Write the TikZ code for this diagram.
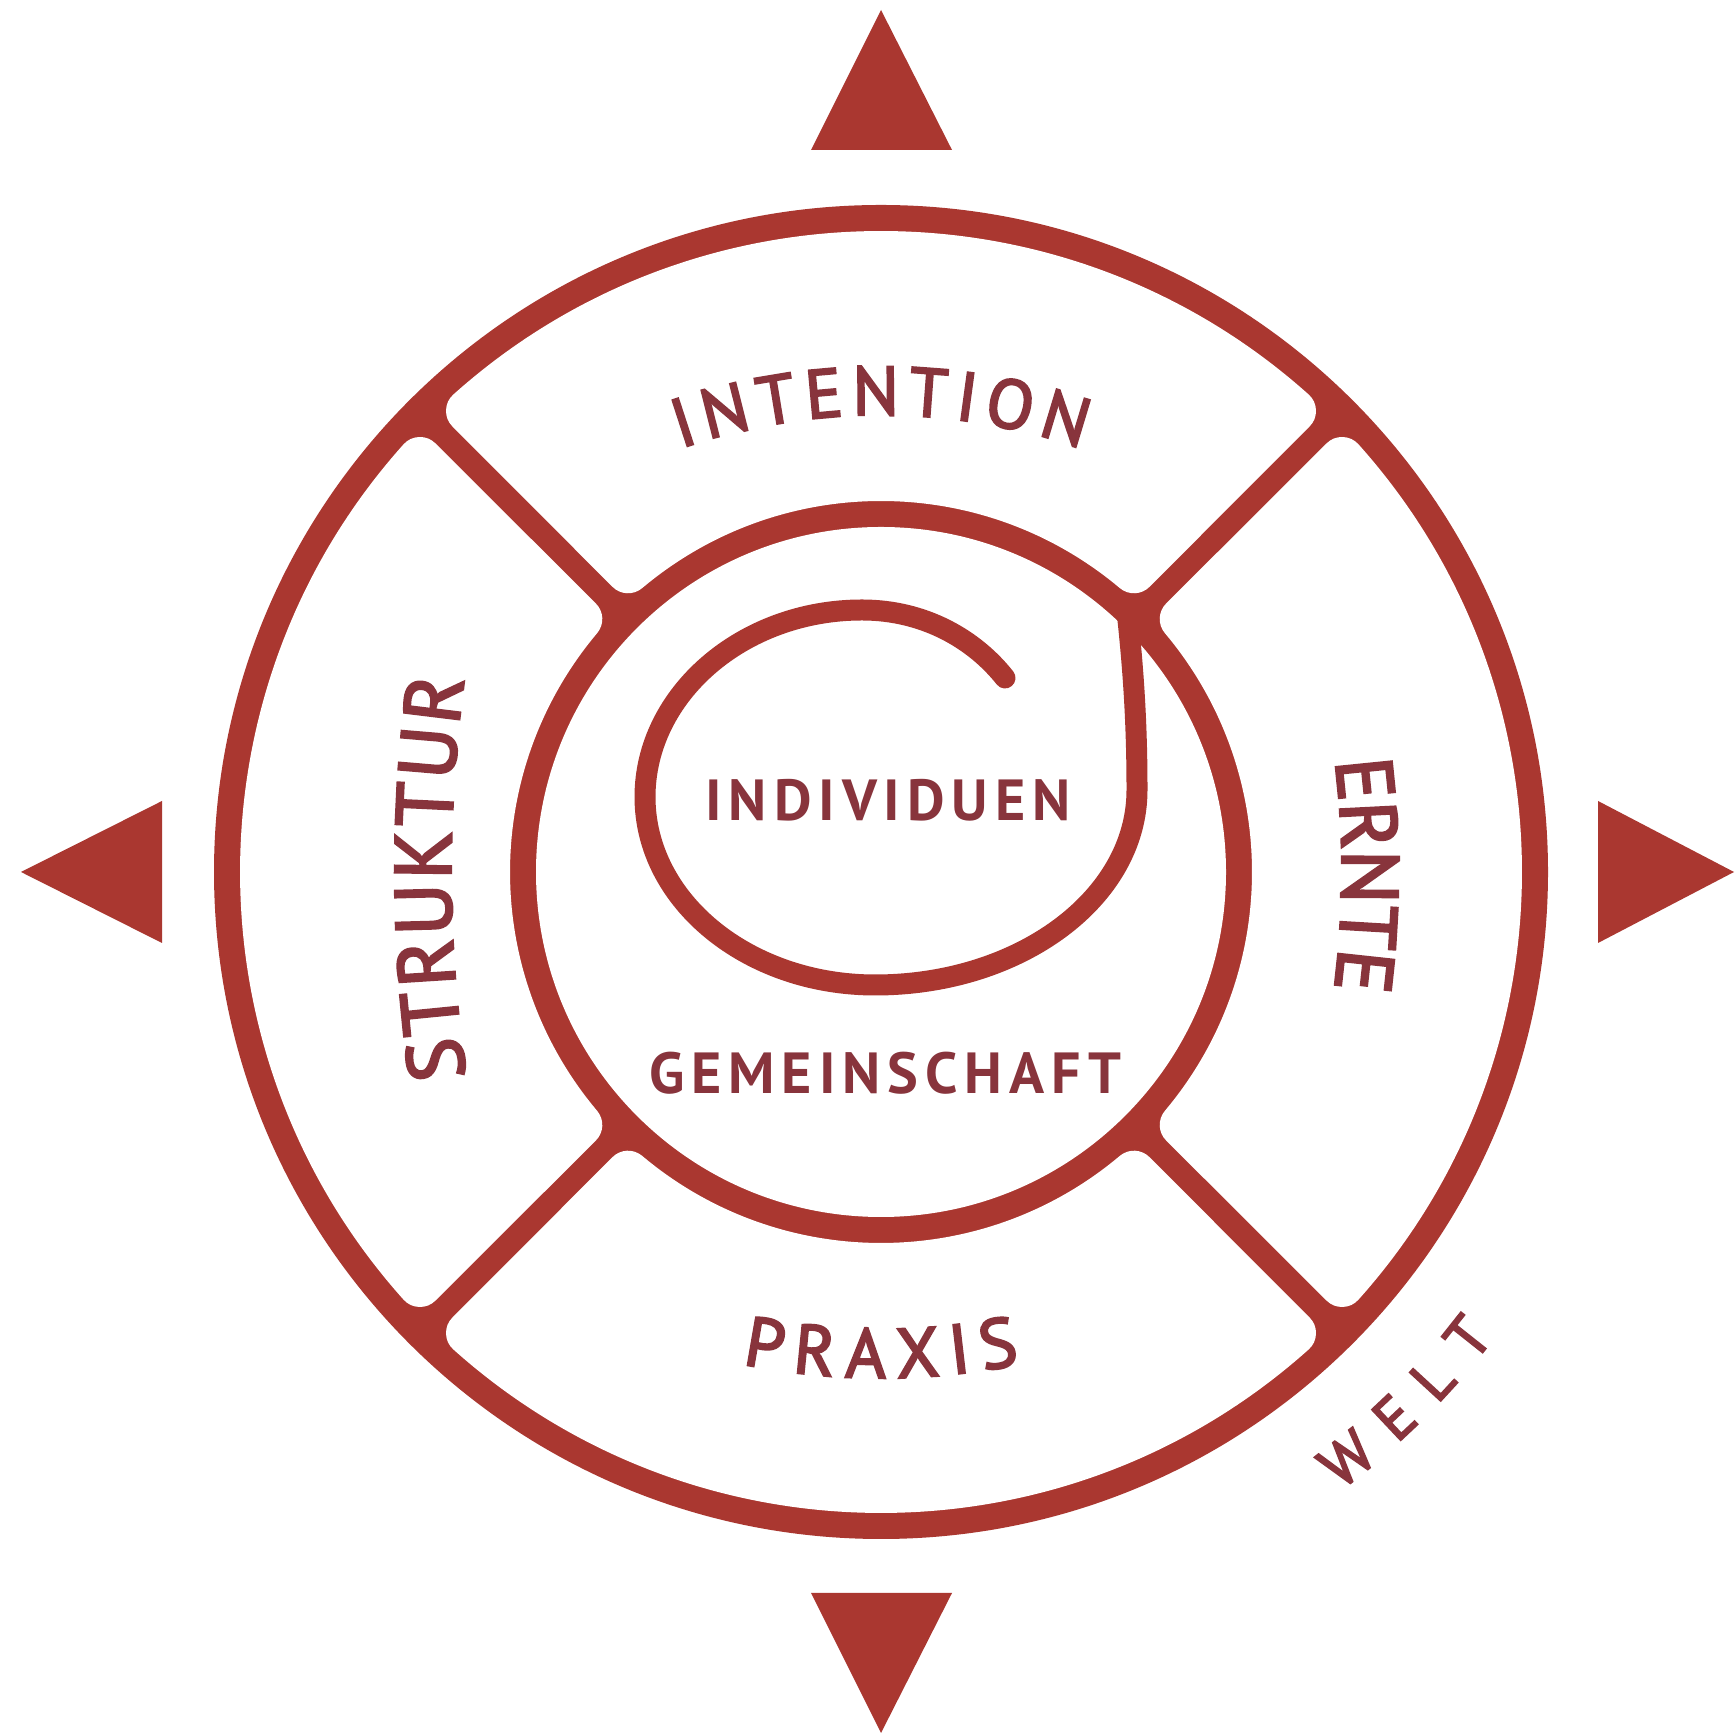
\documentclass[tikz,border=0pt]{standalone}
\usepackage{fontspec}
\setmainfont{PT Sans}
\newfontfamily\ringfamily[FakeBold=3]{PT Sans}
\newfontfamily\centerfamily[LetterSpace=12]{PT Sans Bold}
\newcommand\topfont{\ringfamily\fontsize{69}{69}\selectfont}
\newcommand\sidefont{\ringfamily\fontsize{80}{80}\selectfont}
\newcommand\botfont{\ringfamily\fontsize{70}{70}\selectfont}
\newcommand\weltfont{\ringfamily\fontsize{60}{60}\selectfont}
\newcommand\centerfont{\centerfamily\fontsize{58}{58}\selectfont}
\definecolor{ringred}{RGB}{170,55,48}
\definecolor{labred}{RGB}{136,52,60}
% measure letter widths outside the picture: #1 name, #2 font, #3 letters
\newcommand\MeasureWord[3]{%
  \foreach \ch [count=\k] in {#3}{%
    \setbox0=\hbox{#2\ch}%
    \expandafter\xdef\csname AW@#1@\k\endcsname{\the\wd0}}}
% #1 name, #2 font, #3 baseline radius, #4 mid angle, #5 dir (1 clockwise, -1 ccw), #6 target length, #7 letters
\newcommand\ArcLabel[7]{%
  \gdef\ArcSum{0}\gdef\ArcN{0}%
  \foreach \ch [count=\k] in {#7}{%
    \edef\ArcCur{\csname AW@#1@\k\endcsname}%
    \pgfmathsetmacro\ArcTmp{\ArcSum+\ArcCur}\xdef\ArcSum{\ArcTmp}%
    \xdef\ArcN{\k}}%
  \pgfmathsetmacro\ArcTrack{(#6-\ArcSum)/(\ArcN-1)}%
  \gdef\ArcPos{0}%
  \foreach \ch [count=\k] in {#7}{%
    \edef\ArcCur{\csname AW@#1@\k\endcsname}%
    \pgfmathsetmacro\ArcS{\ArcPos+\ArcCur/2-#6/2}%
    \pgfmathsetmacro\ArcAng{#4-(#5)*deg(\ArcS/#3)}%
    \pgfmathsetmacro\ArcRot{\ArcAng-90*(#5)}%
    \node[lab, anchor=base, rotate=\ArcRot] (#1-\k) at (\ArcAng:#3) {#2\ch};
    \pgfmathsetmacro\ArcTmp{\ArcPos+\ArcCur+\ArcTrack}\xdef\ArcPos{\ArcTmp}}%
}
\tikzset{
  lab/.style={text=labred, inner sep=0pt, outer sep=0pt},
  ringcell/.style={fill=white, draw=white, line width=44pt, line join=round},
  spiralline/.style={draw=ringred, line width=21pt, line cap=round},
  arrowtri/.style={fill=ringred},
}
\begin{document}
\MeasureWord{intention}{\topfont}{I,N,T,E,N,T,I,O,N}%
\MeasureWord{struktur}{\sidefont}{S,T,R,U,K,T,U,R}%
\MeasureWord{ernte}{\sidefont}{E,R,N,T,E}%
\MeasureWord{praxis}{\botfont}{P,R,A,X,I,S}%
\MeasureWord{welt}{\weltfont}{W,E,L,T}%
\begin{tikzpicture}[x=1pt,y=1pt]
\useasboundingbox (0,0) rectangle (1736,1736);
\fill[white] (0,0) rectangle (1736,1736);
% compass triangles
\fill[arrowtri] (881,1726) -- (952,1586) -- (811,1586) -- cycle;
\fill[arrowtri] (881,3) -- (952,143) -- (811,143) -- cycle;
\fill[arrowtri] (21,864) -- (162,935) -- (162,793) -- cycle;
\fill[arrowtri] (1734,864) -- (1598,935) -- (1598,793) -- cycle;
\begin{scope}[shift={(881,864)}]
  \coordinate (C) at (0,0);
  \fill[ringred] (C) circle[radius=667];
  \fill[white] (C) circle[radius=345];
  % cells (shrunk by 22, expanded back by the round-joined white stroke)
  \foreach \phi in {0,90,180,270}{
    \path[ringcell] (\phi-40.07:393) arc[start angle=\phi-40.07, end angle=\phi+40.07, radius=393]
      -- (\phi+41.85:619) arc[start angle=\phi+41.85, end angle=\phi-41.85, radius=619] -- cycle;
  }
  \begin{scope}[shift={(0,-160)}]
    \ArcLabel{intention}{\topfont}{617}{90}{1}{408}{I,N,T,E,N,T,I,O,N}
  \end{scope}
  \begin{scope}[shift={(970,0)}]
    \ArcLabel{struktur}{\sidefont}{1400}{180.25}{1}{400}{S,T,R,U,K,T,U,R}
  \end{scope}
  \begin{scope}[shift={(-439,0)}]
    \ArcLabel{ernte}{\sidefont}{900}{-0.2}{1}{230}{E,R,N,T,E}
  \end{scope}
  \begin{scope}[shift={(0,194)}]
    \ArcLabel{praxis}{\botfont}{700}{-90}{-1}{280}{P,R,A,X,I,S}
  \end{scope}
  \ArcLabel{welt}{\weltfont}{770}{-45.3}{-1}{218}{W,E,L,T}
  \node[lab, anchor=base] (individuen) at (7,51) {\centerfont INDIVIDUEN};
  \node[lab, anchor=base] (gemeinschaft) at (4,-222) {\centerfont GEMEINSCHAFT};
\end{scope}
% spiral
\draw[spiralline] (1005,1058) .. controls (975,1096) and (925,1126) .. (862,1126)
  .. controls (742,1126) and (645,1041) .. (645,939)
  .. controls (645,835) and (748,751) .. (875,751)
  .. controls (1020,751) and (1137,838) .. (1137,946)
  .. controls (1137,1016) and (1133,1070) .. (1127,1125);
\end{tikzpicture}
\end{document}
